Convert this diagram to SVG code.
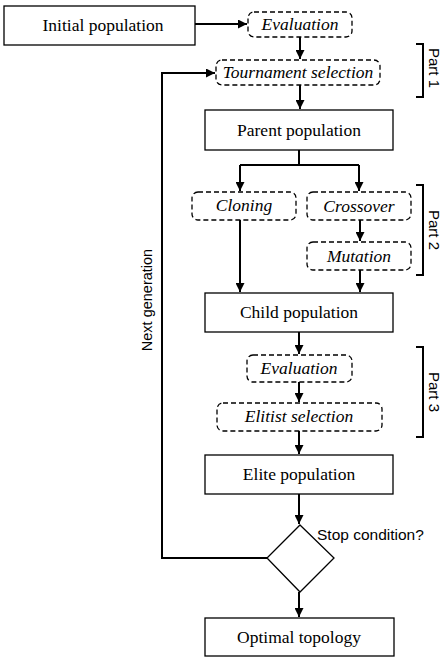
<svg xmlns="http://www.w3.org/2000/svg" width="442" height="658" viewBox="0 0 442 658">
<style>
.box{fill:#fff;stroke:#000;stroke-width:1.3}
.dash{fill:#fff;stroke:#000;stroke-width:1.3;stroke-dasharray:5,3}
.t{font-family:"Liberation Serif","DejaVu Serif",serif;font-size:17.5px;text-anchor:middle;fill:#000}
.i{font-family:"Liberation Serif","DejaVu Serif",serif;font-size:17.5px;font-style:italic;text-anchor:middle;fill:#000}
.s{font-family:"Liberation Sans","Arial",sans-serif;font-size:14.5px;fill:#000}
.c{fill:none;stroke:#000;stroke-width:2}
</style>
<defs>
<marker id="ah" viewBox="0 0 10 10" refX="10" refY="5" markerWidth="9" markerHeight="9" markerUnits="userSpaceOnUse" orient="auto">
<path d="M0,0 L10,5 L0,10 Z" fill="#000"/>
</marker>
</defs>
<g id="connectors">
<path class="c" d="M195,24 H247" marker-end="url(#ah)"/>
<path class="c" d="M300,37 V59" marker-end="url(#ah)"/>
<path class="c" d="M300,85 V109" marker-end="url(#ah)"/>
<path class="c" d="M299,150 V165 M240,165 H359"/>
<path class="c" d="M240,165 V191" marker-end="url(#ah)"/>
<path class="c" d="M359,165 V191" marker-end="url(#ah)"/>
<path class="c" d="M360,220 V241" marker-end="url(#ah)"/>
<path class="c" d="M240,220 V292" marker-end="url(#ah)"/>
<path class="c" d="M360,270 V292" marker-end="url(#ah)"/>
<path class="c" d="M299,332 V354" marker-end="url(#ah)"/>
<path class="c" d="M299,382 V402" marker-end="url(#ah)"/>
<path class="c" d="M299,431 V454" marker-end="url(#ah)"/>
<path class="c" d="M299,494 V524" marker-end="url(#ah)"/>
<path class="c" d="M299,592 V617" marker-end="url(#ah)"/>
<path class="c" d="M267,558 H162 V73 H215" marker-end="url(#ah)"/>
</g>
<g id="initial"><rect class="box" x="4" y="6" width="191" height="39"/><text class="t" x="103" y="31">Initial population</text></g>
<g id="eval1"><rect class="dash" x="248" y="12" width="104" height="25" rx="6"/><text class="i" x="300" y="30">Evaluation</text></g>
<g id="tournament"><rect class="dash" x="216" y="60" width="164" height="25" rx="6"/><text class="i" x="298" y="78">Tournament selection</text></g>
<g id="parent"><rect class="box" x="205" y="110" width="188" height="40"/><text class="t" x="299" y="136">Parent population</text></g>
<g id="cloning"><rect class="dash" x="192" y="192" width="104" height="28" rx="6"/><text class="i" x="244" y="211">Cloning</text></g>
<g id="crossover"><rect class="dash" x="307" y="192" width="104" height="28" rx="6"/><text class="i" x="359" y="212">Crossover</text></g>
<g id="mutation"><rect class="dash" x="307" y="242" width="104" height="28" rx="6"/><text class="i" x="359" y="262">Mutation</text></g>
<g id="child"><rect class="box" x="205" y="293" width="188" height="39"/><text class="t" x="299" y="318">Child population</text></g>
<g id="eval2"><rect class="dash" x="247" y="355" width="105" height="27" rx="6"/><text class="i" x="299" y="374">Evaluation</text></g>
<g id="elitist"><rect class="dash" x="217" y="403" width="165" height="28" rx="6"/><text class="i" x="299" y="422">Elitist selection</text></g>
<g id="elite"><rect class="box" x="205" y="455" width="188" height="39"/><text class="t" x="299" y="480">Elite population</text></g>
<g id="stop"><path class="box" d="M300,525 L334,558 L300,592 L267,558 Z"/><text class="s" x="317" y="540" style="font-size:15.5px">Stop condition?</text></g>
<g id="optimal"><rect class="box" x="205" y="618" width="189" height="38"/><text class="t" x="299" y="643">Optimal topology</text></g>
<g id="part1"><path class="c" d="M416,44 H423 V97 H416"/><text class="s" transform="translate(429,68) rotate(90)" text-anchor="middle" style="font-size:15px">Part 1</text></g>
<g id="part2"><path class="c" d="M416,185 H423 V275 H416"/><text class="s" transform="translate(429,230) rotate(90)" text-anchor="middle" style="font-size:15px">Part 2</text></g>
<g id="part3"><path class="c" d="M416,347 H423 V437 H416"/><text class="s" transform="translate(429,392) rotate(90)" text-anchor="middle" style="font-size:15px">Part 3</text></g>
<g id="nextgen"><text class="s" transform="translate(152,300) rotate(-90)" text-anchor="middle">Next generation</text></g>
</svg>
